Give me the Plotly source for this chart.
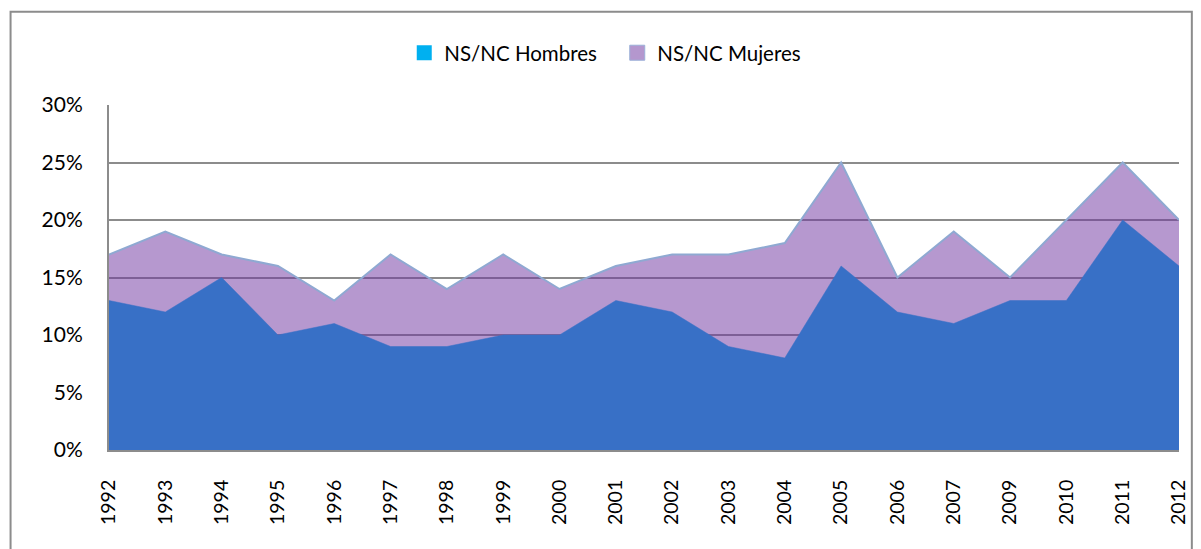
import plotly.graph_objects as go

years = ["1992", "1993", "1994", "1995", "1996", "1997", "1998", "1999", "2000", "2001",
         "2002", "2003", "2004", "2005", "2006", "2007", "2009", "2010", "2011", "2012"]
hombres = [0.13, 0.12, 0.15, 0.10, 0.11, 0.09, 0.09, 0.10, 0.10, 0.13,
           0.12, 0.09, 0.08, 0.16, 0.12, 0.11, 0.13, 0.13, 0.20, 0.16]
mujeres = [0.17, 0.19, 0.17, 0.16, 0.13, 0.17, 0.14, 0.17, 0.14, 0.16,
           0.17, 0.17, 0.18, 0.25, 0.15, 0.19, 0.15, 0.20, 0.25, 0.20]
yticks = [0, 0.05, 0.10, 0.15, 0.20, 0.25, 0.30]
ytext = ["0%", "5%", "10%", "15%", "20%", "25%", "30%"]

FONT = "Lato, 'Open Sans', sans-serif"

fig = go.Figure()
fig.add_trace(go.Scatter(
    x=years, y=mujeres, mode="lines", fill="tozeroy",
    fillcolor="rgba(110,50,160,0.50)",
    line=dict(color="#8FA9D2", width=2),
    showlegend=False, hoverinfo="skip"))
fig.add_trace(go.Scatter(
    x=years, y=hombres, mode="lines", fill="tozeroy",
    fillcolor="#3870C6",
    line=dict(color="#3870C6", width=0.5),
    showlegend=False, hoverinfo="skip"))
# legend entries
fig.add_trace(go.Scatter(
    x=[None], y=[None], mode="markers", name="NS/NC Hombres",
    marker=dict(symbol="square", size=15, color="#00B0F0")))
fig.add_trace(go.Scatter(
    x=[None], y=[None], mode="markers", name="NS/NC Mujeres",
    marker=dict(symbol="square", size=15, color="#B497CE",
                line=dict(color="#9BB0D8", width=1))))

fig.update_layout(
    width=1193, height=541,
    margin=dict(l=101, r=16, t=97, b=99),
    paper_bgcolor="white", plot_bgcolor="white",
    font=dict(family=FONT, color="black"),
    legend=dict(orientation="h", x=0.475, xanchor="center", y=1.151, yanchor="middle",
                font=dict(size=20.5, family=FONT), itemwidth=30,
                entrywidth=168, entrywidthmode="pixels",
                bgcolor="rgba(0,0,0,0)"),
    shapes=[dict(type="rect", xref="paper", yref="paper",
                 x0=-0.092, x1=1.012, y0=-0.4, y1=1.27,
                 line=dict(color="#8C8C8C", width=2), layer="below")],
)
fig.update_xaxes(
    type="category", range=[0, 19], showgrid=False,
    showline=True, linecolor="#8C8C8C", linewidth=2,
    tickangle=-90, tickfont=dict(size=19.5, family=FONT),
    ticks="outside", ticklen=20, tickcolor="rgba(0,0,0,0)")
fig.update_yaxes(
    range=[0, 0.30], tickvals=yticks, ticktext=ytext,
    showgrid=True, gridcolor="#8C8C8C", gridwidth=1.5,
    showline=True, linecolor="#8C8C8C", linewidth=2, mirror=False,
    zeroline=False,
    tickfont=dict(size=21, family=FONT),
    ticks="outside", ticklen=20, tickcolor="rgba(0,0,0,0)")

fig.write_html("out.html")
